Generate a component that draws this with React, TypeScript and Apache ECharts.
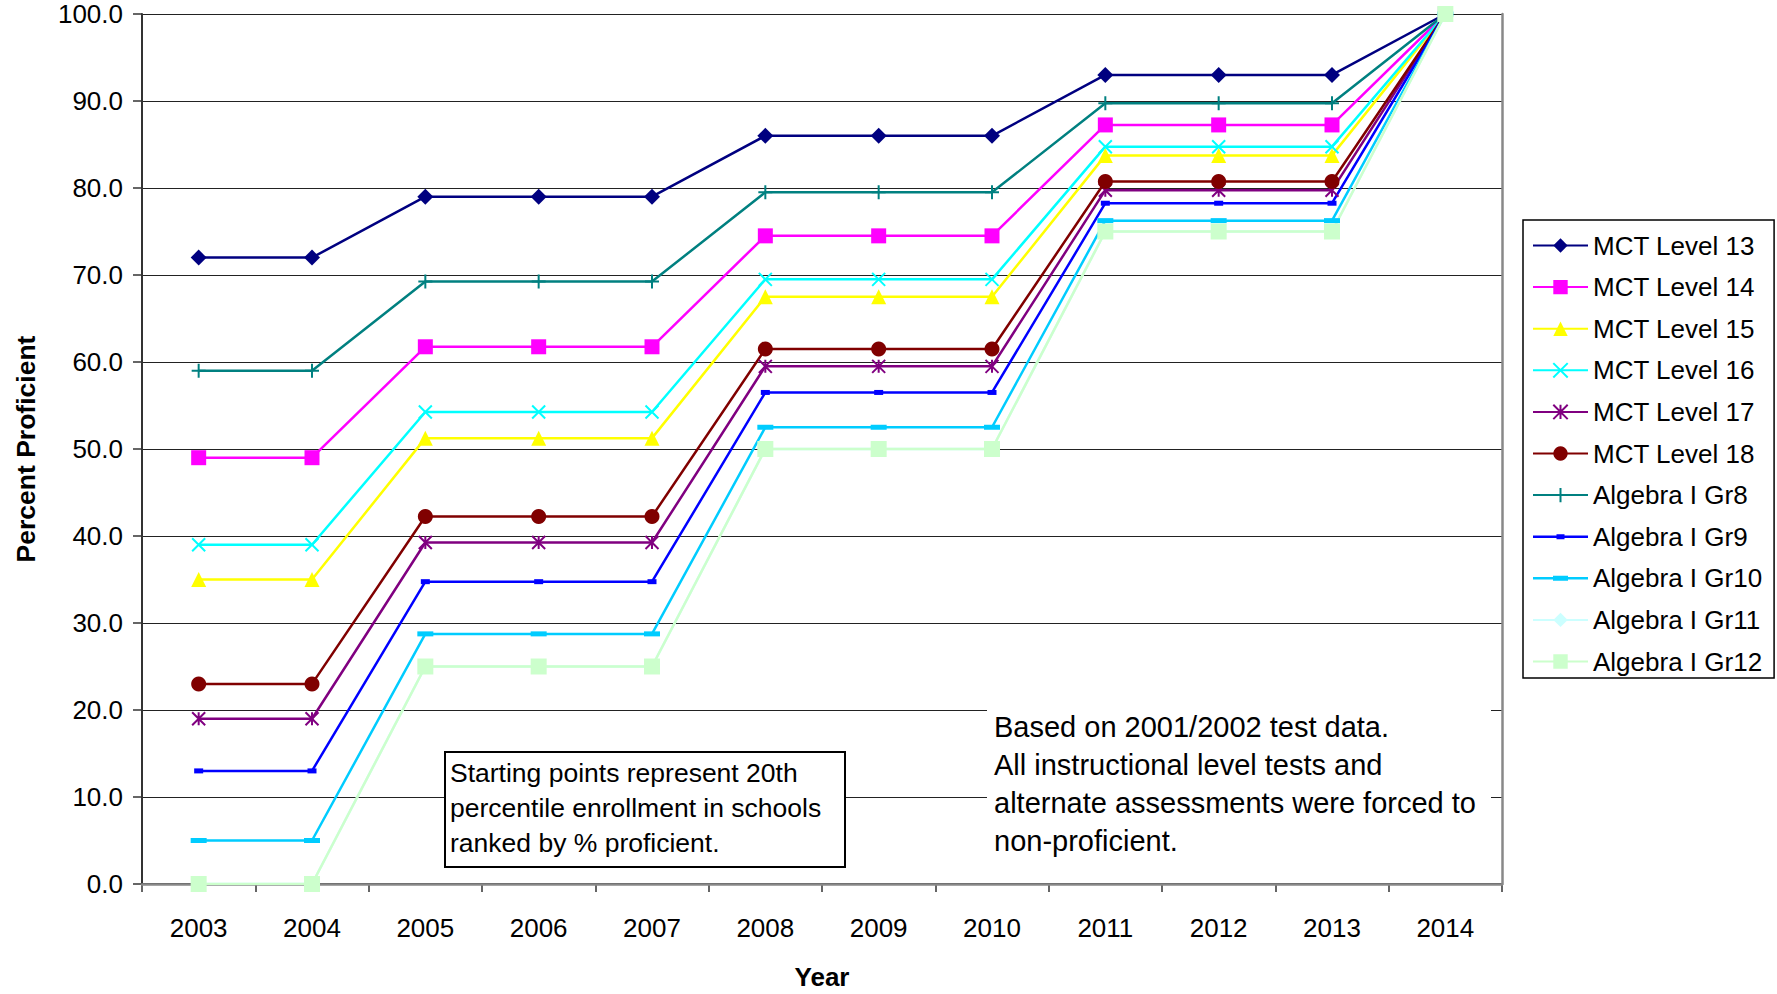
import React, { useEffect, useRef } from 'react';
import * as echarts from 'echarts';

const FONT = "'Liberation Sans', Arial, Helvetica, sans-serif";

const years = ['2003', '2004', '2005', '2006', '2007', '2008', '2009', '2010', '2011', '2012', '2013', '2014'];
const yTicks = [0, 10, 20, 30, 40, 50, 60, 70, 80, 90, 100];

const mct13 = [72, 72, 79, 79, 79, 86, 86, 86, 93, 93, 93, 100];
const mct14 = [49, 49, 61.75, 61.75, 61.75, 74.5, 74.5, 74.5, 87.25, 87.25, 87.25, 100];
const mct15 = [35, 35, 51.25, 51.25, 51.25, 67.5, 67.5, 67.5, 83.75, 83.75, 83.75, 100];
const mct16 = [39, 39, 54.25, 54.25, 54.25, 69.5, 69.5, 69.5, 84.75, 84.75, 84.75, 100];
const mct17 = [19, 19, 39.25, 39.25, 39.25, 59.5, 59.5, 59.5, 79.75, 79.75, 79.75, 100];
const mct18 = [23, 23, 42.25, 42.25, 42.25, 61.5, 61.5, 61.5, 80.75, 80.75, 80.75, 100];
const algGr8 = [59, 59, 69.25, 69.25, 69.25, 79.5, 79.5, 79.5, 89.75, 89.75, 89.75, 100];
const algGr9 = [13, 13, 34.75, 34.75, 34.75, 56.5, 56.5, 56.5, 78.25, 78.25, 78.25, 100];
const algGr10 = [5, 5, 28.75, 28.75, 28.75, 52.5, 52.5, 52.5, 76.25, 76.25, 76.25, 100];
const algGr11 = [0, 0, 25, 25, 25, 50, 50, 50, 75, 75, 75, 100];
const algGr12 = [0, 0, 25, 25, 25, 50, 50, 50, 75, 75, 75, 100];

const seriesNames = [
  'MCT Level 13', 'MCT Level 14', 'MCT Level 15', 'MCT Level 16', 'MCT Level 17', 'MCT Level 18',
  'Algebra I Gr8', 'Algebra I Gr9', 'Algebra I Gr10', 'Algebra I Gr11', 'Algebra I Gr12',
];

const note1 = ['Starting points represent 20th', 'percentile enrollment in schools', 'ranked by % proficient.'];
const note2 = ['Based on 2001/2002 test data.', 'All instructional level tests and', 'alternate assessments were forced to', 'non-proficient.'];

const X_PATH = 'path://M0,0L10,10M10,0L0,10';
const STAR_PATH = 'path://M5,0L5,10M0,0L10,10M10,0L0,10';
const PLUS_PATH = 'path://M5,0L5,10M0,5L10,5';
const GR9_ICON = 'path://M0,1.25h55v2.5h-55zM23.5,0h8v5h-8z';
const GR10_ICON = 'path://M0,1.25h55v2.5h-55zM20,0h15v5h-15z';

function mk(name: string, data: number[], color: string, symbol: string, symbolSize: any, stroked = false) {
  return {
    type: 'line',
    name,
    data,
    color,
    symbol,
    symbolSize,
    showSymbol: true,
    lineStyle: { color, width: 2.5 },
    itemStyle: { color, borderColor: color, borderWidth: stroked ? 2 : 0 },
    emphasis: { disabled: true },
    animation: false,
  };
}

export default function App() {
  const ref = useRef<HTMLDivElement>(null);
  useEffect(() => {
    const chart = echarts.init(ref.current!, null, { renderer: 'svg' });
    const option: any = {
      animation: false,
      backgroundColor: '#ffffff',
      textStyle: { fontFamily: FONT },
      grid: { left: 142, top: 14, right: 275, bottom: 110, containLabel: false, outerBoundsMode: 'none' },
      legend: {
        orient: 'vertical',
        left: 1523,
        top: 220,
        padding: [10.5, 12, 1.5, 9],
        itemWidth: 55,
        itemHeight: 18,
        itemGap: 11.6,
        backgroundColor: '#ffffff',
        borderColor: '#000000',
        borderWidth: 1.5,
        borderRadius: 0,
        textStyle: { fontFamily: FONT, fontSize: 26, color: '#000', lineHeight: 30 },
        data: seriesNames.map((n) =>
          n === 'Algebra I Gr9' ? { name: n, icon: GR9_ICON } : n === 'Algebra I Gr10' ? { name: n, icon: GR10_ICON } : { name: n }
        ),
        selectedMode: false,
      },
      tooltip: { show: false },
      xAxis: [
        {
          type: 'category',
          data: years,
          boundaryGap: true,
          name: 'Year',
          nameLocation: 'middle',
          nameGap: 80,
          nameTextStyle: { fontFamily: FONT, fontSize: 26, fontWeight: 'bold', color: '#000' },
          axisLine: { show: true, lineStyle: { color: '#333', width: 2 } },
          axisTick: { show: true, inside: false, length: 8, lineStyle: { color: '#333', width: 1.5 } },
          axisLabel: { fontFamily: FONT, fontSize: 26, color: '#000', margin: 31, interval: 0 },
          splitLine: { show: false },
        },
        {
          type: 'category',
          data: years,
          position: 'top',
          z: 1,
          axisLine: { show: true, lineStyle: { color: '#888', width: 2.5 } },
          axisTick: { show: false },
          axisLabel: { show: false },
          splitLine: { show: false },
        },
      ],
      yAxis: [
        {
          type: 'value',
          min: 0,
          max: 100,
          interval: 10,
          name: 'Percent Proficient',
          nameLocation: 'middle',
          nameRotate: 90,
          nameGap: 103,
          nameTextStyle: { fontFamily: FONT, fontSize: 26.5, fontWeight: 'bold', color: '#000' },
          axisLine: { show: true, lineStyle: { color: '#333', width: 2 } },
          axisTick: { show: true, inside: false, length: 9, lineStyle: { color: '#333', width: 1.5 } },
          axisLabel: {
            fontFamily: FONT,
            fontSize: 26,
            color: '#000',
            margin: 19,
            formatter: (v: number) => (yTicks.includes(v) ? v.toFixed(1) : ''),
          },
          splitLine: { show: true, lineStyle: { color: '#222', width: 1.2 } },
        },
        {
          type: 'value',
          min: 0,
          max: 100,
          interval: 10,
          position: 'right',
          z: 1,
          axisLine: { show: true, lineStyle: { color: '#888', width: 2.5 } },
          axisTick: { show: false },
          axisLabel: { show: false },
          splitLine: { show: false },
        },
      ],
      graphic: [
        {
          type: 'rect',
          z: 1,
          shape: { x: 987, y: 700, width: 504, height: 180 },
          style: { fill: '#ffffff', stroke: 'none' },
          silent: true,
        },
        {
          type: 'text',
          z: 1,
          x: 994,
          y: 708,
          style: {
            text: note2.join('\n'),
            font: `29px ${FONT}`,
            fill: '#000',
            lineHeight: 38,
            verticalAlign: 'top',
            align: 'left',
          },
          silent: true,
        },
        {
          type: 'rect',
          z: 1,
          shape: { x: 445, y: 752, width: 400, height: 115 },
          style: { fill: '#ffffff', stroke: '#000', lineWidth: 2 },
          silent: true,
        },
        {
          type: 'text',
          z: 1,
          x: 450,
          y: 755.5,
          style: {
            text: note1.join('\n'),
            font: `26.5px ${FONT}`,
            fill: '#000',
            lineHeight: 35,
            verticalAlign: 'top',
            align: 'left',
          },
          silent: true,
        },
      ],
      series: [
        mk('MCT Level 13', mct13, '#000080', 'diamond', 16),
        mk('MCT Level 14', mct14, '#FF00FF', 'rect', 15),
        mk('MCT Level 15', mct15, '#FFFF00', 'triangle', 15),
        mk('MCT Level 16', mct16, '#00FFFF', X_PATH, 13, true),
        mk('MCT Level 17', mct17, '#800080', STAR_PATH, 13, true),
        mk('MCT Level 18', mct18, '#800000', 'circle', 15),
        mk('Algebra I Gr8', algGr8, '#008080', PLUS_PATH, 14, true),
        mk('Algebra I Gr9', algGr9, '#0000FF', 'rect', [9, 5]),
        mk('Algebra I Gr10', algGr10, '#00CCFF', 'rect', [16, 5]),
        mk('Algebra I Gr11', algGr11, '#CCFFFF', 'diamond', 14),
        mk('Algebra I Gr12', algGr12, '#CCFFCC', 'rect', 16),
      ],
    };
    chart.setOption(option);
    return () => chart.dispose();
  }, []);
  return (
    <div
      ref={ref}
      style={{ position: 'absolute', left: 0, top: 0, width: 1777, height: 994, background: '#fff' }}
    />
  );
}
